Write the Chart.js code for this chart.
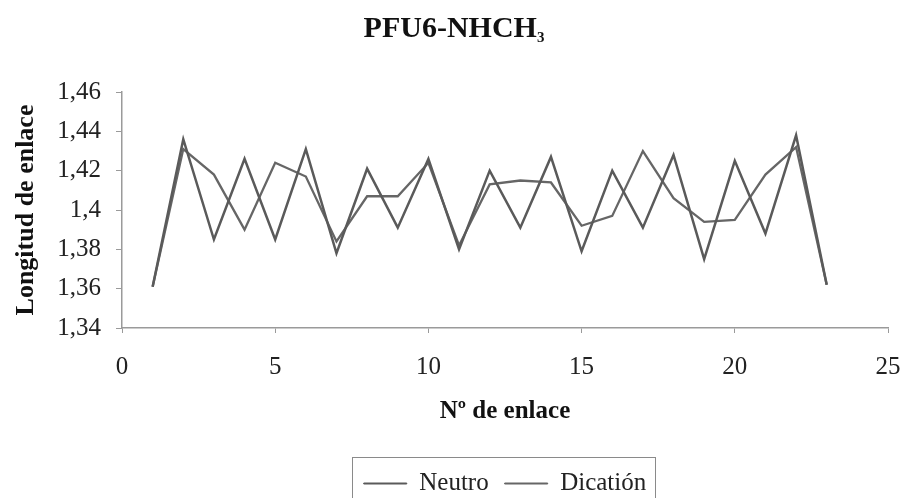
<!DOCTYPE html>
<html>
<head>
<meta charset="utf-8">
<script src="https://cdn.jsdelivr.net/npm/chart.js@4/dist/chart.umd.min.js"></script>
<style>
  html, body { margin: 0; padding: 0; background: #fff; }
  #wrap { width: 906px; height: 498px; }
</style>
</head>
<body>
<div id="wrap"><canvas id="chart" width="906" height="498"></canvas></div>
<script>
const bondIndex = [1, 2, 3, 4, 5, 6, 7, 8, 9, 10, 11, 12, 13, 14, 15, 16, 17, 18, 19, 20, 21, 22, 23];
const neutro = [1.361, 1.436, 1.385, 1.426, 1.385, 1.431, 1.378, 1.421, 1.391, 1.426, 1.380, 1.420,
  1.391, 1.427, 1.379, 1.420, 1.391, 1.428, 1.375, 1.425, 1.388, 1.438, 1.362];
const dication = [1.361, 1.431, 1.418, 1.390, 1.424, 1.417, 1.384, 1.407, 1.407, 1.424, 1.382, 1.413,
  1.415, 1.414, 1.392, 1.397, 1.430, 1.406, 1.394, 1.395, 1.418, 1.432, 1.362];
const seriesNames = ['Neutro', 'Dicatión'];
const xTicks = [0, 5, 10, 15, 20, 25];
const yTicks = [1.34, 1.36, 1.38, 1.4, 1.42, 1.44, 1.46];
const yTickLabels = ['1,34', '1,36', '1,38', '1,4', '1,42', '1,44', '1,46'];

const serif = '"Liberation Serif", "Times New Roman", serif';
const ink = '#222';
const axisGrey = '#9a9a9a';

function toPoints(values) {
  return bondIndex.map((x, i) => ({ x, y: values[i] }));
}

// title with a real subscript 3
const titlePlugin = {
  id: 'subTitle',
  afterDraw(chart) {
    const ctx = chart.ctx;
    ctx.save();
    ctx.fillStyle = '#111';
    ctx.textBaseline = 'alphabetic';
    ctx.textAlign = 'left';
    ctx.font = 'bold 30px ' + serif;
    const main = 'PFU6-NHCH';
    const wMain = ctx.measureText(main).width;
    ctx.font = 'bold 15px ' + serif;
    const wSub = ctx.measureText('3').width;
    const x0 = 454 - (wMain + wSub) / 2;
    ctx.font = 'bold 30px ' + serif;
    ctx.fillText(main, x0, 37);
    ctx.font = 'bold 15px ' + serif;
    ctx.fillText('3', x0 + wMain, 42);
    ctx.restore();
  }
};

// box around the legend like the original
const legendBoxPlugin = {
  id: 'legendBox',
  afterDraw(chart) {
    const boxes = chart.legend.legendHitBoxes;
    if (!boxes || !boxes.length) return;
    const left = Math.min(...boxes.map(b => b.left)) - 12;
    const right = Math.max(...boxes.map(b => b.left + b.width)) + 8;
    const top = Math.min(...boxes.map(b => b.top)) - 14;
    const ctx = chart.ctx;
    ctx.save();
    ctx.strokeStyle = '#8a8a8a';
    ctx.lineWidth = 1;
    ctx.strokeRect(Math.round(left) + 0.5, Math.round(top) + 0.5, Math.round(right - left), 80);
    ctx.restore();
  }
};

new Chart(document.getElementById('chart'), {
  type: 'line',
  data: {
    datasets: [
      { label: seriesNames[0], data: toPoints(neutro), borderColor: '#5a5a5a', backgroundColor: '#5a5a5a',
        borderWidth: 2.5, pointRadius: 0, tension: 0, fill: false },
      { label: seriesNames[1], data: toPoints(dication), borderColor: '#666', backgroundColor: '#666',
        borderWidth: 2.3, pointRadius: 0, tension: 0, fill: false }
    ]
  },
  options: {
    responsive: false,
    animation: false,
    layout: { padding: { top: 92, left: 0, right: 18, bottom: -8 } },
    scales: {
      x: {
        type: 'linear',
        min: 0, max: 25,
        afterBuildTicks: s => { s.ticks = xTicks.map(v => ({ value: v })); },
        afterFit: s => { s.height = 127; s.paddingRight = 0; s.paddingLeft = 0; },
        ticks: { color: ink, font: { family: serif, size: 25 }, padding: 19, maxRotation: 0 },
        grid: { drawOnChartArea: false, drawTicks: true, tickLength: 5, color: axisGrey },
        border: { color: axisGrey, width: 1.5 },
        title: { display: true, text: 'Nº de enlace', color: '#111',
          font: { family: serif, size: 25, weight: 'bold' }, padding: { top: 0, bottom: 28 } }
      },
      y: {
        min: 1.34, max: 1.46,
        afterBuildTicks: s => { s.ticks = yTicks.map(v => ({ value: v })); },
        afterFit: s => { s.width = 122; },
        ticks: {
          color: ink, font: { family: serif, size: 25 }, padding: 15,
          callback: (v, i) => yTickLabels[i]
        },
        grid: { drawOnChartArea: false, drawTicks: true, tickLength: 6, color: axisGrey },
        border: { color: axisGrey, width: 1.5 },
        title: { display: true, text: 'Longitud de enlace', color: '#111',
          font: { family: serif, size: 26, weight: 'bold' }, padding: { top: 11, bottom: 0 } }
      }
    },
    plugins: {
      title: { display: false },
      tooltip: { enabled: false },
      legend: {
        position: 'bottom',
        fullSize: false,
        labels: {
          color: ink, font: { family: serif, size: 25 },
          boxWidth: 43, boxHeight: 1, padding: 16,
          generateLabels: chart => Chart.defaults.plugins.legend.labels.generateLabels(chart)
            .map(l => Object.assign(l, { lineWidth: 1 }))
        }
      }
    }
  },
  plugins: [titlePlugin, legendBoxPlugin]
});
</script>
</body>
</html>
